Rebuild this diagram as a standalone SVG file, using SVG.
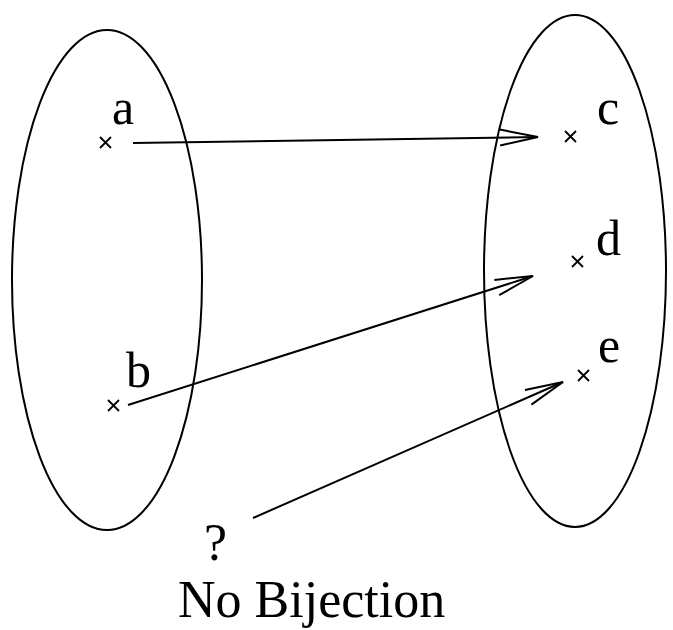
<svg xmlns="http://www.w3.org/2000/svg" width="673" height="630" viewBox="0 0 673 630">
<style>
.set{fill:none;stroke:#000;stroke-width:2}
.x{stroke:#000;stroke-width:1.8;fill:none}
.lbl{font-family:"Liberation Serif","Times New Roman",serif;font-size:50px;fill:#000}
.conn{stroke:#000;stroke-width:2;fill:none;marker-end:url(#open)}
</style>
<defs>
<marker id="open" markerUnits="userSpaceOnUse" viewBox="-40 -10 42 20" refX="0" refY="0" markerWidth="42" markerHeight="20" orient="auto" overflow="visible">
<path d="M-38,-8 L0,0 L-38,8" fill="none" stroke="#000" stroke-width="2"/>
</marker>
</defs>
<g id="setA"><ellipse class="set" cx="107" cy="280" rx="95" ry="250"/></g>
<g id="setB"><ellipse class="set" cx="575" cy="271" rx="91" ry="256"/></g>
<g id="node-a"><path class="x" d="M100,137 l11,11 M111,137 l-11,11"/><text class="lbl" x="112" y="124">a</text></g>
<g id="node-b"><path class="x" d="M108,400 l11,11 M119,400 l-11,11"/><text class="lbl" x="126" y="387">b</text></g>
<g id="node-c"><path class="x" d="M565,131 l11,11 M576,131 l-11,11"/><text class="lbl" x="597" y="124">c</text></g>
<g id="node-d"><path class="x" d="M572,256 l11,11 M583,256 l-11,11"/><text class="lbl" x="596" y="255">d</text></g>
<g id="node-e"><path class="x" d="M578,370 l11,11 M589,370 l-11,11"/><text class="lbl" x="598" y="362">e</text></g>
<g id="node-q"><text class="lbl" x="204" y="560" style="font-size:52px">?</text></g>
<g id="connectors">
<line class="conn" x1="133" y1="143" x2="538" y2="137"/>
<line class="conn" x1="128" y1="405" x2="533" y2="276"/>
<line class="conn" x1="253" y1="518" x2="563" y2="382"/>
</g>
<text class="lbl" x="178" y="617" style="font-size:52px">No Bijection</text>
</svg>
